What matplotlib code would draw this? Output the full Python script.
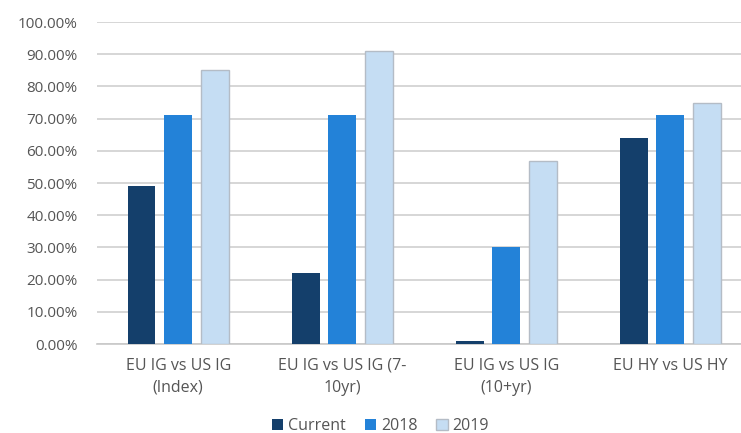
import numpy as np
import matplotlib
matplotlib.use("Agg")
from matplotlib import pyplot as plt
from matplotlib.ticker import FuncFormatter

categories = ["EU IG vs US IG\n(Index)", "EU IG vs US IG (7-\n10yr)",
              "EU IG vs US IG\n(10+yr)", "EU HY vs US HY"]
current = [49, 22, 1, 64]
y2018 = [71, 71, 30, 71]
y2019 = [85, 91, 57, 75]
series_names = ["Current", "2018", "2019"]

plt.rcParams['font.family'] = ['Open Sans', 'DejaVu Sans']
txt = '#555555'

fig = plt.figure(figsize=(7.41, 4.33), dpi=100)
ax = fig.add_axes([0.131, 0.2055, 0.869, 0.7435])

x = np.arange(len(categories))
width = 0.17
step = 0.223
ax.bar(x - step, current, width, color='#143f6b', label=series_names[0], zorder=3)
ax.bar(x, y2018, width, color='#2382d8', label=series_names[1], zorder=3)
ax.bar(x + step, y2019, width, color='#c5ddf3', edgecolor='#b4bcc6', linewidth=1,
       label=series_names[2], zorder=3)

ax.set_ylim(0, 100)
ax.set_xlim(-0.494, 3.43)
ax.set_yticks(np.arange(0, 101, 10))
ax.yaxis.set_major_formatter(FuncFormatter(lambda v, p: "%.2f%%" % v))
ax.set_xticks(x)
ax.set_xticklabels(categories, fontsize=11.5, color=txt, linespacing=1.5)
ax.tick_params(axis='y', labelsize=11, colors=txt, length=0, pad=14)
ax.tick_params(axis='x', length=0, pad=10)
ax.grid(axis='y', color='#d0d0d0', linewidth=1.2, zorder=0)
for s in ['top', 'right', 'left']:
    ax.spines[s].set_visible(False)
ax.spines['bottom'].set_color('#c8c8c8')
ax.spines['bottom'].set_linewidth(1.2)

ax.legend(loc='lower center', bbox_to_anchor=(0.44, -0.315), ncol=3, frameon=False,
          fontsize=11.5, labelcolor=txt, handlelength=0.7, handleheight=0.7,
          handletextpad=0.3, columnspacing=1.2, borderpad=0.2)

plt.savefig("out.png", dpi=100)
